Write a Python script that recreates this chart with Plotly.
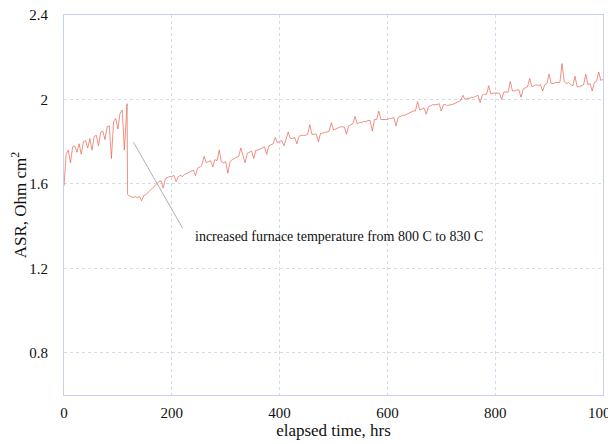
import plotly.graph_objects as go

# elapsed time (hrs)
hours_start = [0, 1, 2, 3, 4, 8, 12, 16, 20, 24, 28, 32, 36, 40, 44, 48, 52, 56,
               60, 64, 68, 72, 76, 80, 84, 88, 92, 96, 100, 104, 108, 112, 116, 117, 118]
hours_rest = list(range(120, 1001, 4))
hours = hours_start + hours_rest

# ASR values (Ohm cm^2)
asr_start = [1.59, 1.63, 1.69, 1.72, 1.74, 1.76, 1.70, 1.775, 1.78, 1.75, 1.79, 1.74, 1.80,
             1.805, 1.77, 1.815, 1.76, 1.825, 1.83, 1.78, 1.845, 1.85, 1.81, 1.87, 1.875, 1.72,
             1.895, 1.91, 1.86, 1.935, 1.95, 1.76, 1.97, 1.98, 1.55]
asr_rest = [
    1.545, 1.54, 1.535, 1.54, 1.535, 1.54, 1.52, 1.545, 1.55, 1.56,
    1.57, 1.58, 1.59, 1.60, 1.61, 1.615, 1.58, 1.625, 1.63, 1.635,
    1.635, 1.64, 1.61, 1.635, 1.64, 1.635, 1.645, 1.65, 1.655, 1.66,
    1.665, 1.64, 1.675, 1.68, 1.69, 1.73, 1.70, 1.705, 1.71, 1.68,
    1.715, 1.71, 1.76, 1.705, 1.70, 1.705, 1.65, 1.705, 1.715, 1.72,
    1.725, 1.73, 1.77, 1.735, 1.70, 1.745, 1.75, 1.755, 1.72, 1.76,
    1.76, 1.765, 1.77, 1.775, 1.74, 1.78, 1.785, 1.79, 1.82, 1.795,
    1.80, 1.805, 1.78, 1.81, 1.845, 1.815, 1.815, 1.82, 1.79, 1.825,
    1.83, 1.83, 1.83, 1.835, 1.88, 1.835, 1.835, 1.835, 1.80, 1.84,
    1.84, 1.845, 1.845, 1.85, 1.89, 1.855, 1.86, 1.865, 1.87, 1.87,
    1.87, 1.835, 1.875, 1.88, 1.885, 1.92, 1.885, 1.89, 1.89, 1.895,
    1.895, 1.90, 1.90, 1.85, 1.905, 1.905, 1.945, 1.905, 1.905, 1.905,
    1.905, 1.91, 1.91, 1.915, 1.875, 1.915, 1.92, 1.925, 1.925, 1.93,
    1.935, 1.94, 1.945, 1.945, 1.99, 1.95, 1.955, 1.96, 1.93, 1.965,
    1.97, 1.975, 1.975, 1.975, 1.98, 1.945, 1.975, 1.975, 1.97, 1.975,
    1.975, 1.98, 1.985, 1.99, 1.995, 2.02, 2.00, 2.005, 2.005, 2.01,
    2.01, 2.015, 2.02, 1.985, 2.02, 2.025, 2.025, 2.065, 2.025, 2.03,
    2.03, 2.03, 2.03, 2.00, 2.035, 2.035, 2.035, 2.085, 2.04, 2.04,
    2.045, 2.045, 2.01, 2.05, 2.055, 2.06, 2.10, 2.06, 2.065, 2.07,
    2.065, 2.07, 2.04, 2.07, 2.075, 2.12, 2.075, 2.075, 2.08, 2.08,
    2.08, 2.17, 2.085, 2.075, 2.08, 2.07, 2.065, 2.11, 2.06, 2.06,
    2.065, 2.07, 2.12, 2.07, 2.075, 2.04, 2.08, 2.085, 2.13, 2.09,
    2.095,
]
asr = asr_start + asr_rest

x_ticks = [0, 200, 400, 600, 800, 1000]
y_ticks = [0.8, 1.2, 1.6, 2.0, 2.4]
y_tick_text = ["0.8", "1.2", "1.6", "2", "2.4"]

note_text = "increased furnace temperature from 800 C to 830 C"
note_from = (129, 1.797)
note_to = (220, 1.39)
note_text_pos = (239, 1.352)

serif = "Liberation Serif"
axis_col = "#c6cff6"
grid_col = "#d6d9ec"

fig = go.Figure()
fig.add_trace(go.Scatter(
    x=hours, y=asr, mode="lines",
    line=dict(color="rgba(232,92,72,0.85)", width=0.8),
    showlegend=False, hoverinfo="skip",
))

fig.add_shape(type="line", xref="x", yref="y",
              x0=note_from[0], y0=note_from[1], x1=note_to[0], y1=note_to[1],
              line=dict(color="#b0b0b0", width=1))
fig.add_annotation(x=note_text_pos[0], y=note_text_pos[1], text=note_text,
                   showarrow=False, xanchor="left", yanchor="middle",
                   font=dict(family=serif, size=14, color="#111"))

# page body has an 8px default margin, so the figure is sized to fit the window
fig.update_layout(
    width=608, height=436,
    margin=dict(l=56, r=13, t=7, b=49, autoexpand=False),
    paper_bgcolor="white", plot_bgcolor="white",
    font=dict(family=serif, size=14, color="#111"),
)
fig.update_xaxes(
    range=[0, 1000], tickvals=x_ticks, ticktext=[str(v) for v in x_ticks],
    showline=True, linecolor=axis_col, linewidth=1, mirror=True,
    showgrid=True, gridcolor=grid_col, griddash="dot", gridwidth=1,
    zeroline=False, ticks="", ticklabelstandoff=4, ticklabeloverflow="allow",
    automargin=False,
    tickfont=dict(family=serif, size=15, color="#111"),
    title=dict(text="elapsed time, hrs", font=dict(family=serif, size=17, color="#111"), standoff=3),
)
fig.update_yaxes(
    range=[0.6, 2.4], tickvals=y_ticks, ticktext=y_tick_text,
    showline=True, linecolor=axis_col, linewidth=1, mirror=True,
    showgrid=True, gridcolor=grid_col, griddash="dot", gridwidth=1,
    zeroline=False, ticks="", ticklabelstandoff=12, ticklabeloverflow="allow",
    automargin=False,
    tickfont=dict(family=serif, size=15, color="#111"),
    title=dict(text="ASR, Ohm cm<sup>2</sup>", font=dict(family=serif, size=17, color="#111"), standoff=8),
)

fig.write_html("out.html")
